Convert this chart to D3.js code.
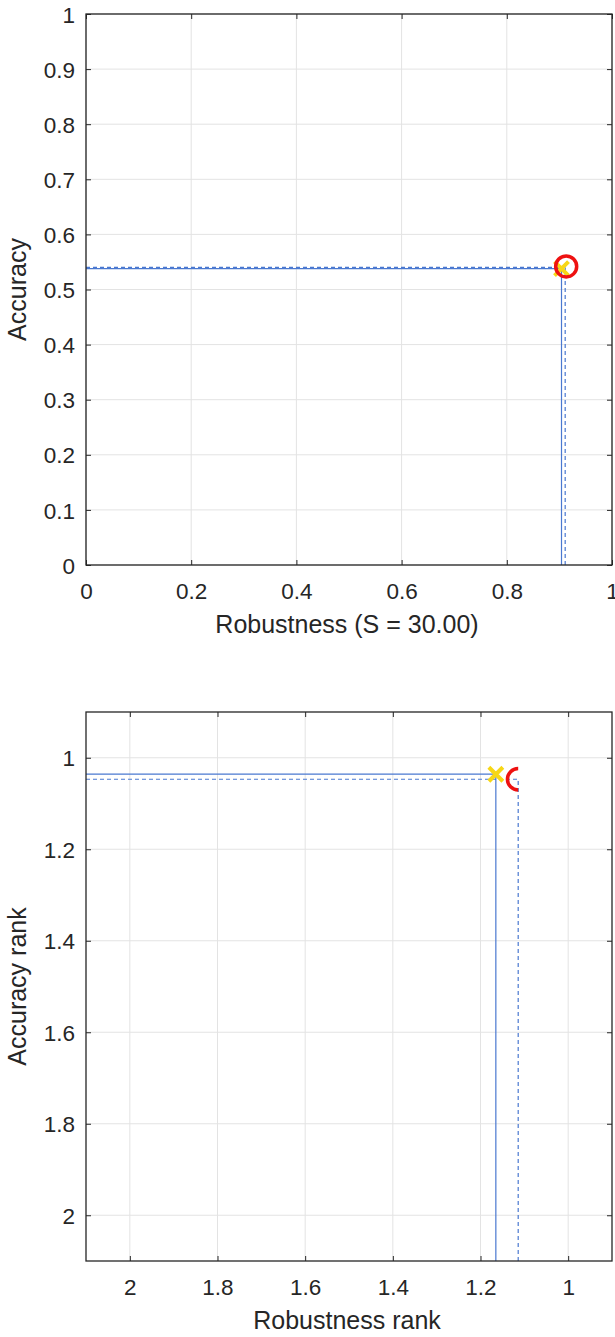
<!DOCTYPE html>
<html>
<head>
<meta charset="utf-8">
<script src="https://cdn.jsdelivr.net/npm/d3@7"></script>
<style>
  body { margin: 0; background: #fff; }
  svg text { font-family: "Liberation Sans", Arial, sans-serif; fill: #262626; }
</style>
</head>
<body>
<svg id="chart" width="615" height="1337"></svg>
<script>
// top panel: accuracy vs robustness
const accTicksX = [0, 0.2, 0.4, 0.6, 0.8, 1];
const accTicksY = [0, 0.1, 0.2, 0.3, 0.4, 0.5, 0.6, 0.7, 0.8, 0.9, 1];
const accRobust = [0.904, 0.911];   // [cross, circle]
const accValue = [0.538, 0.540];

// bottom panel: ranks (both axes reversed)
const rankTicksX = [2, 1.8, 1.6, 1.4, 1.2, 1];
const rankTicksY = [1, 1.2, 1.4, 1.6, 1.8, 2];
const rankRobust = [1.165, 1.114];
const rankAcc = [1.036, 1.047];

const markers = ['x', 'o'];
const dashes = [null, '4,3'];

const svg = d3.select('#chart');

function panel(opt) {
	const g = svg.append('g').attr('transform', 'translate(' + opt.left + ',' + opt.top + ')');
	const w = opt.width, h = opt.height;
	const x = d3.scaleLinear().domain(opt.xDomain).range([0, w]);
	const y = d3.scaleLinear().domain(opt.yDomain).range([h, 0]);

	// grid
	g.append('g').attr('class', 'grid')
		.selectAll('line.gx').data(opt.xTicks).join('line')
		.attr('x1', d => x(d)).attr('x2', d => x(d))
		.attr('y1', 0).attr('y2', h);
	g.append('g').attr('class', 'grid')
		.selectAll('line.gy').data(opt.yTicks).join('line')
		.attr('y1', d => y(d)).attr('y2', d => y(d))
		.attr('x1', 0).attr('x2', w);
	g.selectAll('.grid line').attr('stroke', '#e3e3e3').attr('stroke-width', 1);

	// guide lines and markers
	const pts = opt.xs.map((v, i) => ({x: v, y: opt.ys[i], m: markers[i], dash: dashes[i]}));
	const x0 = opt.xDomain[0], y0 = opt.yDomain[0];
	pts.forEach(p => {
		g.append('line')
			.attr('x1', x(x0)).attr('x2', x(p.x))
			.attr('y1', y(p.y)).attr('y2', y(p.y))
			.attr('stroke', '#4a78d0').attr('stroke-width', 1.2)
			.attr('stroke-dasharray', p.dash);
		g.append('line')
			.attr('x1', x(p.x)).attr('x2', x(p.x))
			.attr('y1', y(y0)).attr('y2', y(p.y))
			.attr('stroke', '#4a78d0').attr('stroke-width', 1.2)
			.attr('stroke-dasharray', p.dash);
	});

	pts.forEach(p => {
		const cx = x(p.x), cy = y(p.y);
		if (p.m === 'o') {
			if (opt.halfCircle) {
				const arc = d3.arc().innerRadius(9).outerRadius(12.5)
					.startAngle(Math.PI).endAngle(2 * Math.PI);
				g.append('path').attr('d', arc())
					.attr('transform', 'translate(' + cx + ',' + cy + ')')
					.attr('fill', '#ee1111');
			} else {
				g.append('circle').attr('cx', cx + 1).attr('cy', cy - 1).attr('r', 10.5)
					.attr('fill', 'none').attr('stroke', '#ee1111').attr('stroke-width', 3.5);
			}
		} else {
			const s = 7;
			g.append('path')
				.attr('d', 'M' + (cx - s) + ',' + (cy - s) + 'L' + (cx + s) + ',' + (cy + s) +
					'M' + (cx - s) + ',' + (cy + s) + 'L' + (cx + s) + ',' + (cy - s))
				.attr('stroke', '#f7d716').attr('stroke-width', 4).attr('fill', 'none');
		}
	});

	// axes (ticks inside, like the original)
	const fmt = d => String(d);
	const ax = g.append('g').attr('transform', 'translate(0,' + h + ')')
		.call(d3.axisBottom(x).tickValues(opt.xTicks).tickFormat(fmt).tickSize(-5).tickSizeOuter(0));
	ax.selectAll('text').attr('dy', null).attr('y', 34).style('font-size', '22.5px');
	g.append('g')
		.call(d3.axisTop(x).tickValues(opt.xTicks).tickFormat('').tickSize(-5).tickSizeOuter(0));
	const ay = g.append('g')
		.call(d3.axisLeft(y).tickValues(opt.yTicks).tickFormat(fmt).tickSize(-5).tickSizeOuter(0));
	ay.selectAll('text').attr('dy', '0.36em').attr('x', -11).style('font-size', '22.5px');
	g.append('g').attr('transform', 'translate(' + w + ',0)')
		.call(d3.axisRight(y).tickValues(opt.yTicks).tickFormat('').tickSize(-5).tickSizeOuter(0));
	g.selectAll('.domain').remove();
	g.selectAll('.tick line').attr('stroke', '#262626');

	g.append('rect').attr('width', w).attr('height', h)
		.attr('fill', 'none').attr('stroke', '#262626').attr('stroke-width', 1.3);

	g.append('text')
		.attr('x', w / 2 - 2).attr('y', h + 68)
		.attr('text-anchor', 'middle').style('font-size', '25px')
		.text(opt.xLabel);
	g.append('text')
		.attr('transform', 'translate(' + (-60) + ',' + (h / 2) + ') rotate(-90)')
		.attr('text-anchor', 'middle').style('font-size', '25px')
		.text(opt.yLabel);
}

panel({
	left: 86, top: 14, width: 526, height: 551,
	xDomain: [0, 1], yDomain: [0, 1],
	xTicks: accTicksX, yTicks: accTicksY,
	xs: accRobust, ys: accValue,
	xLabel: 'Robustness (S = 30.00)', yLabel: 'Accuracy'
});

panel({
	left: 86, top: 712, width: 526, height: 549,
	xDomain: [2.1, 0.9], yDomain: [2.1, 0.9],
	xTicks: rankTicksX, yTicks: rankTicksY,
	xs: rankRobust, ys: rankAcc,
	halfCircle: true,
	xLabel: 'Robustness rank', yLabel: 'Accuracy rank'
});
</script>
</body>
</html>
